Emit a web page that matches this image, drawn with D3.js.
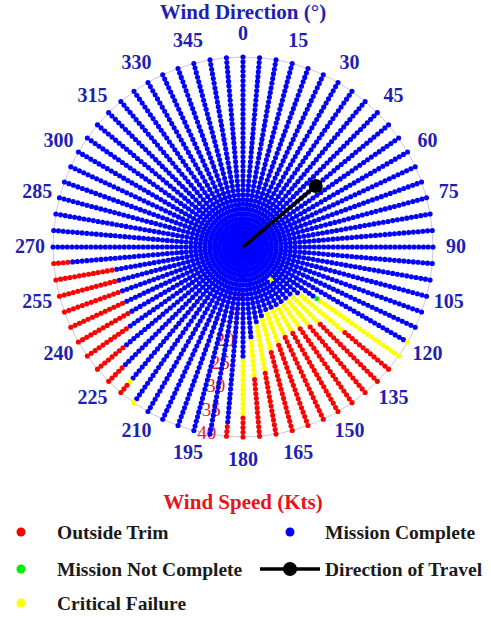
<!DOCTYPE html>
<html>
<head>
<meta charset="utf-8">
<script src="https://cdn.jsdelivr.net/npm/d3@7"></script>
<style>
	body { margin: 0; background: #fff; }
	svg text { font-family: "Liberation Serif", "Times New Roman", serif; }
</style>
</head>
<body>
<div id="chartDiv"></div>
<script>
;(function() {

	var width = 491;
	var height = 617;
	var center = { x: 243, y: 247 };
	var outerRadius = 190;
	var dotRadius = 2.55;

	// wind headings tested (deg) and wind speeds tested (kts)
	var headings = [0, 5, 10, 15, 20, 25, 30, 35, 40, 45, 50, 55, 60, 65, 70, 75, 80, 85,
		90, 95, 100, 105, 110, 115, 120, 125, 130, 135, 140, 145, 150, 155, 160, 165, 170, 175,
		180, 185, 190, 195, 200, 205, 210, 215, 220, 225, 230, 235, 240, 245, 250, 255, 260, 265,
		270, 275, 280, 285, 290, 295, 300, 305, 310, 315, 320, 325, 330, 335, 340, 345, 350, 355];
	var speeds = [0, 1, 2, 3, 4, 5, 6, 7, 8, 9, 10, 11, 12, 13, 14, 15, 16, 17, 18, 19, 20,
		21, 22, 23, 24, 25, 26, 27, 28, 29, 30, 31, 32, 33, 34, 35, 36, 37, 38, 39, 40];

	var headingTicks = [0, 15, 30, 45, 60, 75, 90, 105, 120, 135, 150, 165, 180, 195, 210, 225, 240, 255, 270, 285, 300, 315, 330, 345];
	var speedTicks = [0, 5, 10, 15, 20, 25, 30, 35, 40];

	// everything not listed here ended "Mission Complete"
	// [heading, outcome, first speed, last speed]
	var outcomeRuns = [
		[120, "crit", 40, 40],
		[125, "notComplete", 19, 19], [125, "crit", 20, 40],
		[130, "crit", 16, 27], [130, "trim", 28, 40],
		[135, "crit", 15, 22], [135, "trim", 23, 40],
		[140, "crit", 9, 9], [140, "crit", 15, 21], [140, "trim", 22, 40],
		[145, "crit", 15, 20], [145, "trim", 21, 40],
		[150, "crit", 15, 20], [150, "trim", 21, 40],
		[155, "crit", 15, 20], [155, "trim", 21, 40],
		[160, "crit", 15, 21], [160, "trim", 22, 40],
		[165, "crit", 16, 22], [165, "trim", 23, 40],
		[170, "crit", 17, 26], [170, "trim", 27, 40],
		[175, "crit", 20, 27], [175, "trim", 28, 40],
		[180, "crit", 24, 35], [180, "trim", 36, 40],
		[185, "trim", 38, 40],
		[215, "crit", 40, 40],
		[220, "crit", 37, 37], [220, "trim", 38, 40],
		[225, "trim", 36, 40],
		[230, "trim", 33, 40],
		[235, "trim", 30, 40],
		[240, "trim", 28, 40],
		[245, "trim", 28, 40],
		[250, "trim", 28, 40],
		[255, "trim", 28, 40],
		[260, "trim", 28, 40],
		[265, "trim", 37, 40]
	];

	var travelHeading = 50;
	var travelSpeed = 20;

	var outcomeColor = {
		trim: "#ff0000",
		complete: "#0000ff",
		notComplete: "#00ee00",
		crit: "#ffff00"
	};

	var legendItems = [
		{ key: "trim", label: "Outside Trim", col: 0, row: 0 },
		{ key: "complete", label: "Mission Complete", col: 1, row: 0 },
		{ key: "notComplete", label: "Mission Not Complete", col: 0, row: 1 },
		{ key: "travel", label: "Direction of Travel", col: 1, row: 1 },
		{ key: "crit", label: "Critical Failure", col: 0, row: 2 }
	];

	var chart, rScale, aScale;

	init();

	function init() {
		chart = d3.select("#chartDiv").append("svg")
			.attr("width", width)
			.attr("height", height);

		chart.plotArea = chart.append("g")
			.attr("transform", "translate(" + center.x + "," + center.y + ")");

		rScale = d3.scaleLinear().domain([0, 40]).range([0, outerRadius]);
		aScale = d3.scaleLinear().domain([0, 360]).range([0, 2 * Math.PI]);

		drawGrid();
		drawDots();
		drawTravel();
		drawLabels();
		drawLegend();
	}

	function drawGrid() {
		chart.plotArea.selectAll(".ring")
			.data(speedTicks.slice(1))
			.enter().append("circle")
				.attr("class", "ring")
				.attr("r", function(d) { return rScale(d); })
				.attr("fill", "none")
				.attr("stroke", function(d) { return d === 40 ? "#c9c6dc" : "#d6d6d6"; })
				.attr("stroke-width", 1)
				.attr("stroke-dasharray", function(d) { return d === 40 ? null : "1,2"; });

		// speed labels sit under the dots, like the original
		chart.plotArea.selectAll(".speed-label")
			.data(speedTicks)
			.enter().append("text")
				.attr("class", "speed-label")
				.attr("x", function(d) { return d3.pointRadial(aScale(191), rScale(d))[0]; })
				.attr("y", function(d) { return d3.pointRadial(aScale(191), rScale(d))[1] - 1; })
				.attr("text-anchor", "middle")
				.attr("dominant-baseline", "central")
				.style("font-size", "19px")
				.attr("fill", "#e8202a")
				.text(function(d) { return d; });
	}

	function drawDots() {
		var lookup = {};
		outcomeRuns.forEach(function(run) {
			for (var s = run[2]; s <= run[3]; s++) lookup[run[0] + "|" + s] = run[1];
		});

		var points = [];
		headings.forEach(function(h) {
			speeds.forEach(function(s) {
				points.push({ heading: h, speed: s, outcome: lookup[h + "|" + s] || "complete" });
			});
		});

		chart.plotArea.selectAll(".dot")
			.data(points)
			.enter().append("circle")
				.attr("class", "dot")
				.attr("cx", function(d) { return d3.pointRadial(aScale(d.heading), rScale(d.speed))[0]; })
				.attr("cy", function(d) { return d3.pointRadial(aScale(d.heading), rScale(d.speed))[1]; })
				.attr("r", dotRadius)
				.attr("fill", function(d) { return outcomeColor[d.outcome]; });
	}

	function drawTravel() {
		var end = d3.pointRadial(aScale(travelHeading), rScale(travelSpeed));
		chart.plotArea.append("line")
			.attr("x1", 0).attr("y1", 0)
			.attr("x2", end[0]).attr("y2", end[1])
			.attr("stroke", "#000")
			.attr("stroke-width", 3.5);
		chart.plotArea.append("circle")
			.attr("cx", end[0]).attr("cy", end[1])
			.attr("r", 7)
			.attr("fill", "#000");
	}

	function drawLabels() {
		chart.append("text")
			.attr("x", center.x)
			.attr("y", 19)
			.attr("text-anchor", "middle")
			.style("font-size", "21px")
			.style("font-weight", "bold")
			.attr("fill", "#1f1fb4")
			.text("Wind Direction (\u00B0)");

		chart.plotArea.selectAll(".heading-label")
			.data(headingTicks)
			.enter().append("text")
				.attr("class", "heading-label")
				.attr("x", function(d) { return d3.pointRadial(aScale(d), outerRadius + 23)[0]; })
				.attr("y", function(d) { return d3.pointRadial(aScale(d), outerRadius + 23)[1] - 1; })
				.attr("text-anchor", "middle")
				.attr("dominant-baseline", "central")
				.style("font-size", "20px")
				.style("font-weight", "bold")
				.attr("fill", "#1f1fb4")
				.text(function(d) { return d; });

		chart.append("text")
			.attr("x", center.x)
			.attr("y", 509)
			.attr("text-anchor", "middle")
			.style("font-size", "21px")
			.style("font-weight", "bold")
			.attr("fill", "#e8141c")
			.text("Wind Speed (Kts)");
	}

	function drawLegend() {
		var colX = [21, 290];
		var textX = [57, 325];
		var rowY = [532, 569, 603];

		var items = chart.append("g").attr("class", "legend")
			.selectAll(".legend-item")
			.data(legendItems)
			.enter().append("g")
				.attr("class", "legend-item")
				.attr("transform", function(d) { return "translate(0," + rowY[d.row] + ")"; });

		items.filter(function(d) { return d.key === "travel"; })
			.append("line")
				.attr("x1", 260).attr("x2", 320)
				.attr("y1", 0).attr("y2", 0)
				.attr("stroke", "#000")
				.attr("stroke-width", 3.5);

		items.append("circle")
			.attr("cx", function(d) { return colX[d.col]; })
			.attr("cy", 0)
			.attr("r", function(d) { return d.key === "travel" ? 7 : 4.5; })
			.attr("fill", function(d) { return d.key === "travel" ? "#000" : outcomeColor[d.key]; });

		items.append("text")
			.attr("x", function(d) { return textX[d.col]; })
			.attr("y", 0)
			.attr("dominant-baseline", "central")
			.style("font-size", "19.5px")
			.style("font-weight", "bold")
			.attr("fill", "#1a1a1a")
			.text(function(d) { return d.label; });
	}

})();
</script>
</body>
</html>
